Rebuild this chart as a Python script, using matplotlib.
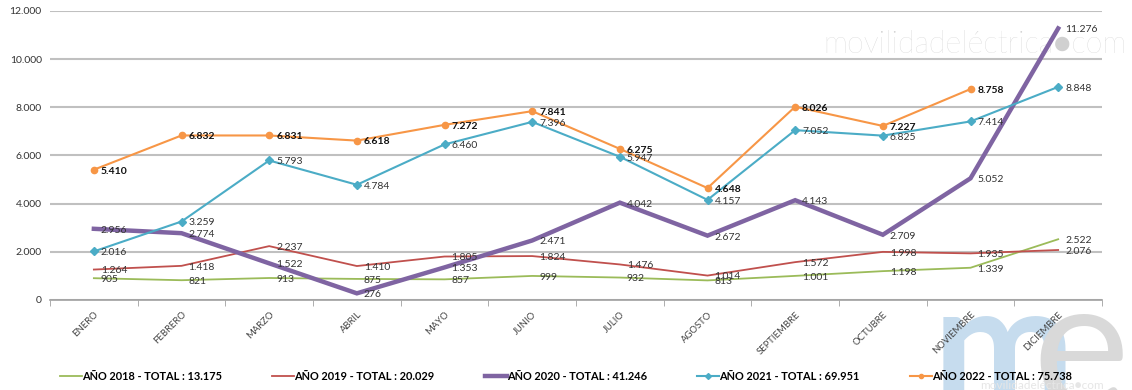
import matplotlib
matplotlib.use('Agg')
import matplotlib.pyplot as plt
from matplotlib.ticker import FuncFormatter, FixedLocator

plt.rcParams['font.family'] = ['Lato', 'DejaVu Sans']

months = ['ENERO', 'FEBRERO', 'MARZO', 'ABRIL', 'MAYO', 'JUNIO', 'JULIO',
          'AGOSTO', 'SEPTIEMBRE', 'OCTUBRE', 'NOVIEMBRE', 'DICIEMBRE']

y2018 = [905, 821, 913, 875, 857, 999, 932, 813, 1001, 1198, 1339, 2522]
y2019 = [1264, 1418, 2237, 1410, 1805, 1824, 1476, 1014, 1572, 1998, 1935, 2076]
y2020 = [2956, 2774, 1522, 276, 1353, 2471, 4042, 2672, 4143, 2709, 5052, 11276]
y2021 = [2016, 3259, 5793, 4784, 6460, 7396, 5947, 4157, 7052, 6825, 7414, 8848]
y2022 = [5410, 6832, 6831, 6618, 7272, 7841, 6275, 4648, 8026, 7227, 8758]

legend_labels = ['AÑO 2018 - TOTAL : 13.175', 'AÑO 2019 - TOTAL : 20.029',
                 'AÑO 2020 - TOTAL : 41.246', 'AÑO 2021 - TOTAL : 69.951',
                 'AÑO 2022 - TOTAL : 75.738']


def miles(v):
    return f'{v:,.0f}'.replace(',', '.')


fig = plt.figure(figsize=(11.32, 3.9), dpi=100)
ax = fig.add_axes([0.0442, 0.2308, 0.9293, 0.741])

# watermarks (behind the chart)
fig.text(0.995, 0.885, 'movilidadeléctrica●com', ha='right', va='center',
         fontsize=22, color='#d0d0d0', fontweight='light', zorder=-1)
fig.text(0.824, -0.035, 'm', ha='left', va='baseline', fontsize=122,
         color='#c6dcee', fontweight='bold', zorder=-1)
fig.text(0.912, -0.045, 'e', ha='left', va='baseline', fontsize=132,
         color='#d9d9d9', zorder=-1)
fig.text(0.975, 0.012, 'movilidadeléctrica●com', ha='right', va='center',
         fontsize=8.5, color='#e6e6e6', zorder=-1)

x = list(range(len(months)))
series = [
    (y2018, '#9BBB59', 1.3, None, False),
    (y2019, '#C0504D', 1.3, None, False),
    (y2020, '#7F64A2', 3.2, None, False),
    (y2021, '#4BACC6', 1.5, 'D', False),
    (y2022, '#F79646', 1.5, 'o', True),
]

for (vals, col, lw, mk, bold), lab in zip(series, legend_labels):
    xs = x[:len(vals)]
    ax.plot(xs, vals, color=col, lw=lw, marker=mk, markersize=4.5,
            label=lab, zorder=3, solid_joinstyle='miter')
    for xi, v in zip(xs, vals):
        ax.annotate(miles(v), (xi, v), xytext=(5, -1), textcoords='offset points',
                    ha='left', va='center', fontsize=7.5,
                    fontweight='bold' if bold else 'normal',
                    color='#111111' if bold else '#333333', zorder=4)

ax.set_xlim(-0.5, 11.5)
ax.set_ylim(0, 12000)
ax.set_yticks(range(0, 12001, 2000))
ax.yaxis.set_major_formatter(FuncFormatter(lambda v, p: miles(v)))
ax.tick_params(axis='y', length=0, labelsize=7.5, labelcolor='#333333', pad=6)

ax.set_xticks(x)
ax.set_xticklabels(months, rotation=45, ha='right', rotation_mode='anchor',
                   fontsize=6.8, color='#444444')
ax.tick_params(axis='x', which='major', length=0, pad=7)
ax.xaxis.set_minor_locator(FixedLocator([i - 0.5 for i in range(13)]))
ax.tick_params(axis='x', which='minor', length=4, color='#a0a0a0', direction='out')

ax.grid(axis='y', color='#c0c0c0', lw=1.5)
ax.set_axisbelow(True)
for s in ['top', 'right', 'left']:
    ax.spines[s].set_visible(False)
ax.spines['bottom'].set_color('#a0a0a0')
ax.spines['bottom'].set_linewidth(1.2)
ax.patch.set_alpha(0)

leg = fig.legend(loc='center', bbox_to_anchor=(0.50, 0.035), ncol=5, frameon=False,
                 handlelength=2.0, handletextpad=0.0, columnspacing=4.6,
                 borderpad=0, prop={'weight': 'bold', 'size': 7.9})
for h in leg.legend_handles:
    h.set_markersize(3)

fig.savefig('out.png', dpi=100)
